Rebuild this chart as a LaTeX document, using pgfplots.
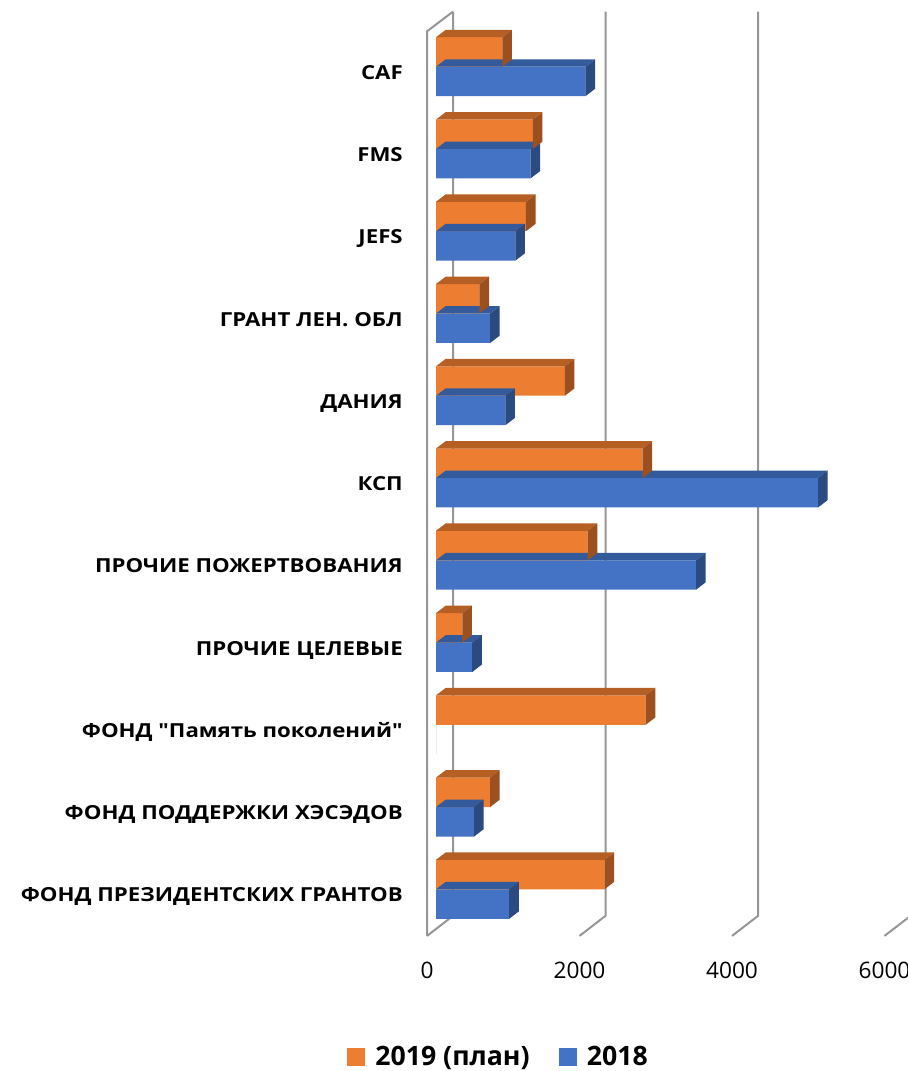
\documentclass[border=0pt]{standalone}
\usepackage{fontspec}
\setmainfont{Open Sans}
\newfontfamily\labfont{Open Sans}[FakeStretch=1.15]
\usepackage{pgfplots}
\usepackage{pgfplotstable}
\pgfplotsset{compat=1.18}

\definecolor{orfront}{HTML}{ED7D31}
\definecolor{ortop}{HTML}{B65F24}
\definecolor{orside}{HTML}{9C5020}
\definecolor{blfront}{HTML}{4472C4}
\definecolor{bltop}{HTML}{335A9A}
\definecolor{blside}{HTML}{2B4A80}
\definecolor{wall}{RGB}{150,150,150}

% top and side faces of a bar, drawn from its end point
% depth 7.2pt x 5.5pt, x unit 0.0571875pt per value
\newcommand\boxmark[4]{%
  \pgfmathsetmacro\bxlen{\barval*0.0571875}%
  \ifdim\bxlen pt>0pt
  \pgfmathsetmacro\bxtop{#3+5.5}%
  \pgfmathsetmacro\bxbot{#4+5.5}%
  \pgfmathsetmacro\bxleft{7.2-\bxlen}%
  \pgfsetfillcolor{#1}%
  \pgfpathmoveto{\pgfqpoint{-\bxlen pt}{#3pt}}%
  \pgfpathlineto{\pgfqpoint{0pt}{#3pt}}%
  \pgfpathlineto{\pgfqpoint{7.2pt}{\bxtop pt}}%
  \pgfpathlineto{\pgfqpoint{\bxleft pt}{\bxtop pt}}%
  \pgfpathclose
  \pgfusepath{fill}%
  \pgfsetfillcolor{#2}%
  \pgfpathmoveto{\pgfqpoint{0pt}{#4pt}}%
  \pgfpathlineto{\pgfqpoint{0pt}{#3pt}}%
  \pgfpathlineto{\pgfqpoint{7.2pt}{\bxtop pt}}%
  \pgfpathlineto{\pgfqpoint{7.2pt}{\bxbot pt}}%
  \pgfpathclose
  \pgfusepath{fill}%
  \fi}
\pgfdeclareplotmark{box-or}{\boxmark{ortop}{orside}{22.1}{0}}
\pgfdeclareplotmark{box-bl}{\boxmark{bltop}{blside}{0}{-22.1}}

\pgfplotstableread{
idx v19 v18
10 870 1960
9 1270 1240
8 1180 1040
7 570 710
6 1690 910
5 2710 5010
4 1990 3410
3 345 475
2 2750 0
1 710 500
0 2210 960
}\data

\begin{document}
\begin{tikzpicture}
\begin{axis}[
    x=0.0571875pt, y=61.695pt,
    xmin=0, xmax=6000,
    ymin=-0.567, ymax=10.67,
    clip=false,
    axis line style={draw=none},
    major tick length=0pt,
    xtick={0,2000,4000,6000},
    xticklabels={0,2000,4000,6000},
    xticklabel style={anchor=north, inner sep=0pt, yshift=-19.3pt, xshift=-6.75pt,
      font=\fontsize{17}{20}\selectfont},
    ytick={0,1,2,3,4,5,6,7,8,9,10},
    yticklabels={{ФОНД ПРЕЗИДЕНТСКИХ ГРАНТОВ},{ФОНД ПОДДЕРЖКИ ХЭСЭДОВ},
      {ФОНД \symbol{34}Память поколений\symbol{34}},{ПРОЧИЕ ЦЕЛЕВЫЕ},{ПРОЧИЕ ПОЖЕРТВОВАНИЯ},
      {КСП},{ДАНИЯ},{ГРАНТ ЛЕН. ОБЛ},{JEFS},{FMS},{CAF}},
    yticklabel style={anchor=base east, inner sep=0pt, xshift=-24.75pt, yshift=-9.5pt,
      font=\labfont\bfseries\fontsize{14.5}{17}\selectfont},
    legend columns=2,
    reverse legend,
    legend image code/.code={\fill[#1,draw=none] (0pt,-6.5pt) rectangle (13.2pt,6.5pt);
      \path (19pt,0pt);},
    legend style={draw=none, fill=none, at={(0.1377,-0.1311)}, anchor=center,
      font=\bfseries\fontsize{20}{24}\selectfont,
      /tikz/every even column/.append style={column sep=20pt}},
  ]
  % walls and grid of the 3d frame
  \draw[wall, line width=1.5pt] (axis cs:-118,-0.567) -- (axis cs:-118,10.43) -- (axis cs:223,10.67);
  \draw[wall, line width=1.5pt] (axis cs:223,10.67) -- (axis cs:223,-0.323) -- (axis cs:-118,-0.567);
  \draw[wall, line width=1.5pt] (axis cs:2223,10.67) -- (axis cs:2223,-0.323) -- (axis cs:1882,-0.567);
  \draw[wall, line width=1.5pt] (axis cs:4223,10.67) -- (axis cs:4223,-0.323) -- (axis cs:3882,-0.567);
  \draw[wall, line width=1.5pt] (axis cs:6223,10.67) -- (axis cs:6223,-0.323) -- (axis cs:5882,-0.567);
  \coordinate (bbsw) at (axis cs:-5718,-2.209);
  \coordinate (bbne) at (axis cs:6177,10.811);

  \addplot[only marks, mark=box-bl, forget plot,
    visualization depends on={\thisrow{v18} \as \barval}]
    table[x=v18, y=idx]{\data};
  \addplot[xbar, bar width=22.1pt, bar shift=-11.05pt, fill=blfront, draw=none]
    table[x=v18, y=idx]{\data};
  \addlegendentry{2018}
  \addplot[only marks, mark=box-or, forget plot,
    visualization depends on={\thisrow{v19} \as \barval}]
    table[x=v19, y=idx]{\data};
  \addplot[xbar, bar width=22.1pt, bar shift=11.05pt, fill=orfront, draw=none]
    table[x=v19, y=idx]{\data};
  \addlegendentry{2019 (план)}
\end{axis}
\pgfresetboundingbox
\useasboundingbox (bbsw) rectangle (bbne);
\end{tikzpicture}
\end{document}
